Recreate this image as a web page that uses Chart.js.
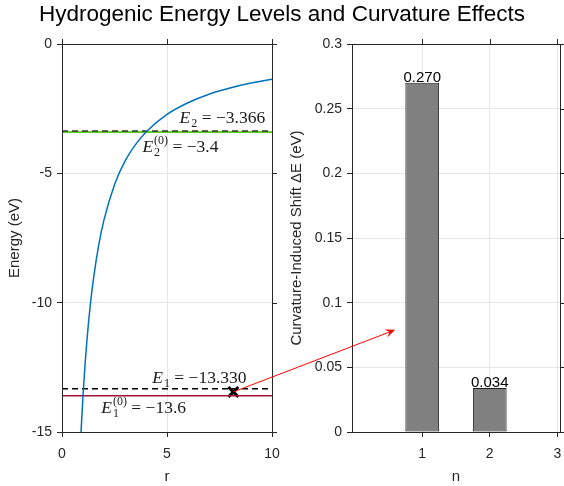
<!DOCTYPE html>
<html>
<head>
<meta charset="utf-8">
<script src="https://cdn.jsdelivr.net/npm/chart.js@4.4.1/dist/chart.umd.min.js"></script>
<style>
  body { margin: 0; background: #fff; }
  #wrap { position: relative; width: 564px; height: 486px; overflow: hidden; }
  #title { position: absolute; left: 0; top: 1px; width: 564px; text-align: center;
           font: 22.5px "Liberation Sans", Arial, sans-serif; color: #000; }
  canvas { position: absolute; top: 0; }
</style>
</head>
<body>
<div id="wrap">
  <canvas id="leftChart" width="282" height="486" style="left:0"></canvas>
  <canvas id="rightChart" width="282" height="486" style="left:282px"></canvas>
  <canvas id="overlay" width="564" height="486" style="left:0;pointer-events:none"></canvas>
  <div id="title">Hydrogenic Energy Levels and Curvature Effects</div>
</div>
<script>
// ---- data ----
// Coulomb-like curve (left panel)
const rCurve = [0.9, 1.0, 1.1, 1.2, 1.35, 1.5, 1.75, 2.0, 2.5, 3.0, 3.5, 4.0, 5.0, 6.0, 7.0, 8.0, 9.0, 10.0];
const eCurve = [-15.1, -13.6, -12.36, -11.33, -10.07, -9.07, -7.77, -6.8, -5.44, -4.53, -3.89, -3.4, -2.72, -2.27, -1.94, -1.7, -1.51, -1.36];
const rSpan = [0, 10];
const unperturbed = [-13.6, -3.4];     // E1(0), E2(0)
const perturbed = [-13.330, -3.366];   // E1, E2
const markPoint = [8.16, -13.45];

// level labels: [r, E] anchor, subscript, has superscript, value text
const levelLabelPos = [[4.3, -13.1], [1.87, -14.27], [5.6, -3.05], [3.83, -4.16]];
const levelLabelSub = ['1', '1', '2', '2'];
const levelLabelSup = [false, true, false, true];
const levelLabelVal = ['\u221213.330', '\u221213.6', '\u22123.366', '\u22123.4'];

// right panel bars
const nValues = [1, 2];
const shiftValues = [0.270, 0.034];
const shiftLabels = ['0.270', '0.034'];
const nTicks = [1, 2, 3];

// arrow: from left-panel data point to right-panel data point
const arrowFrom = [8.16, -13.45];
const arrowTo = [0.6, 0.079];

const axisColor = '#262626';
const gridColor = '#e6e6e6';
const sans = '"Liberation Sans", Arial, sans-serif';

Chart.defaults.font.family = sans;
Chart.defaults.color = axisColor;

const boxPlugin = {
  id: 'box',
  afterDraw(chart) {
    const { ctx, chartArea: a, scales } = chart;
    ctx.save();
    ctx.strokeStyle = axisColor;
    ctx.lineWidth = 1;
    ctx.strokeRect(Math.round(a.left) + 0.5, Math.round(a.top) + 0.5,
                   Math.round(a.right - a.left), Math.round(a.bottom - a.top));
    ctx.beginPath();
    scales.x.ticks.forEach(t => {
      const px = Math.round(scales.x.getPixelForValue(t.value)) + 0.5;
      ctx.moveTo(px, a.top); ctx.lineTo(px, a.top - 5);
    });
    scales.y.ticks.forEach(t => {
      const py = Math.round(scales.y.getPixelForValue(t.value)) + 0.5;
      ctx.moveTo(a.right, py); ctx.lineTo(a.right + 5, py);
    });
    ctx.stroke();
    ctx.restore();
  }
};

function drawLevel(ctx, x, y, sub, sup, val) {
  ctx.font = 'italic 17.5px "Liberation Serif", "DejaVu Serif", serif';
  ctx.fillText('E', x, y);
  x += ctx.measureText('E').width + 1;
  ctx.font = '12px "Liberation Serif", "DejaVu Serif", serif';
  ctx.fillText(sub, x, y + 4);
  let w = ctx.measureText(sub).width;
  if (sup) {
    ctx.fillText('(0)', x, y - 8);
    w = Math.max(w, ctx.measureText('(0)').width);
  }
  x += w;
  ctx.font = '17.5px "Liberation Serif", "DejaVu Serif", serif';
  ctx.fillText(' = ' + val, x, y);
}

const levelTextPlugin = {
  id: 'levelText',
  afterDatasetsDraw(chart) {
    const { ctx, scales } = chart;
    ctx.save();
    ctx.fillStyle = '#1a1a1a';
    ctx.textBaseline = 'alphabetic';
    levelLabelPos.forEach((p, i) => {
      drawLevel(ctx, scales.x.getPixelForValue(p[0]), scales.y.getPixelForValue(p[1]),
                levelLabelSub[i], levelLabelSup[i], levelLabelVal[i]);
    });
    ctx.restore();
  }
};

const barLabelPlugin = {
  id: 'barLabel',
  afterDatasetsDraw(chart) {
    const { ctx, scales } = chart;
    ctx.save();
    ctx.fillStyle = '#000';
    ctx.font = '15px ' + sans;
    ctx.textAlign = 'center';
    ctx.textBaseline = 'alphabetic';
    nValues.forEach((n, i) => {
      ctx.fillText(shiftLabels[i], scales.x.getPixelForValue(n), scales.y.getPixelForValue(shiftValues[i]) - 1);
    });
    ctx.restore();
  }
};

function hline(y, color, width, dash) {
  return {
    data: rSpan.map(r => ({ x: r, y: y })),
    borderColor: color, borderWidth: width, borderDash: dash || [],
    pointRadius: 0, fill: false
  };
}

const tickFont = { size: 14 };
const titleFont = { size: 15 };

function fitX(s) { s.height = 54; s.paddingRight = 0; s.paddingLeft = 0; }

const leftChart = new Chart(document.getElementById('leftChart'), {
  type: 'line',
  data: {
    datasets: [
      {
        data: rCurve.map((r, i) => ({ x: r, y: eCurve[i] })),
        borderColor: '#0072BD', borderWidth: 1.5, pointRadius: 0,
        cubicInterpolationMode: 'monotone', fill: false
      },
      hline(perturbed[1], '#333333', 1.5, [6, 4]),
      hline(unperturbed[1], '#5fcf1f', 2),
      hline(unperturbed[0], '#A2142F', 1.5),
      hline(perturbed[0], '#000000', 1.5, [6, 4]),
      {
        data: [{ x: markPoint[0], y: markPoint[1] }],
        showLine: false, pointStyle: 'crossRot', pointRadius: 7,
        pointBorderWidth: 3, pointBorderColor: '#000', borderColor: '#000'
      }
    ]
  },
  options: {
    responsive: false,
    animation: false,
    layout: { padding: { top: 44, right: 10, left: 0, bottom: 0 } },
    plugins: { legend: { display: false }, tooltip: { enabled: false } },
    scales: {
      x: {
        type: 'linear', min: rSpan[0], max: rSpan[1],
        ticks: { stepSize: 5, font: tickFont, padding: 9, maxRotation: 0 },
        grid: { color: gridColor, tickColor: axisColor, tickLength: 5 },
        border: { color: axisColor },
        title: { display: true, text: 'r', font: titleFont, padding: { top: 0, bottom: 0 } },
        afterFit: fitX
      },
      y: {
        min: -15, max: 0,
        ticks: { stepSize: 5, font: tickFont, padding: 5 },
        grid: { color: gridColor, tickColor: axisColor, tickLength: 5 },
        border: { color: axisColor },
        title: { display: true, text: 'Energy (eV)', font: titleFont, padding: { top: 6, bottom: 0 } },
        afterFit(s) { s.width = 62; }
      }
    }
  },
  plugins: [levelTextPlugin, boxPlugin]
});

const rightChart = new Chart(document.getElementById('rightChart'), {
  type: 'bar',
  data: {
    datasets: [{
      data: nValues.map((n, i) => ({ x: n, y: shiftValues[i] })),
      backgroundColor: '#808080', borderColor: '#1f1f1f', borderWidth: 1,
      borderSkipped: false,
      barPercentage: 0.5, categoryPercentage: 1.0
    }]
  },
  options: {
    responsive: false,
    animation: false,
    layout: { padding: { top: 44, right: 4, left: 0, bottom: 0 } },
    plugins: { legend: { display: false }, tooltip: { enabled: false } },
    scales: {
      x: {
        type: 'linear', min: -0.04, max: 3.04, offset: false,
        afterBuildTicks(s) { s.ticks = nTicks.map(v => ({ value: v })); },
        ticks: { font: tickFont, padding: 9, maxRotation: 0 },
        grid: { color: gridColor, tickColor: axisColor, tickLength: 5, offset: false },
        border: { color: axisColor },
        title: { display: true, text: 'n', font: titleFont, padding: { top: 0, bottom: 0 } },
        afterFit: fitX
      },
      y: {
        min: 0, max: 0.3,
        ticks: { stepSize: 0.05, font: tickFont, padding: 5,
                 callback: v => String(Math.round(v * 100) / 100) },
        grid: { color: gridColor, tickColor: axisColor, tickLength: 5 },
        border: { color: axisColor },
        title: { display: true, text: 'Curvature-Induced Shift \u0394E (eV)', font: titleFont, padding: { top: 6, bottom: 0 } },
        afterFit(s) { s.width = 70; }
      }
    }
  },
  plugins: [barLabelPlugin, boxPlugin]
});

// arrow across both panels
(function drawArrow() {
  const ctx = document.getElementById('overlay').getContext('2d');
  const x1 = leftChart.scales.x.getPixelForValue(arrowFrom[0]);
  const y1 = leftChart.scales.y.getPixelForValue(arrowFrom[1]);
  const x2 = 282 + rightChart.scales.x.getPixelForValue(arrowTo[0]);
  const y2 = rightChart.scales.y.getPixelForValue(arrowTo[1]);
  const ang = Math.atan2(y2 - y1, x2 - x1);
  const head = 11, spread = 0.4;
  ctx.strokeStyle = '#ff0000';
  ctx.fillStyle = '#ff0000';
  ctx.lineWidth = 1;
  ctx.beginPath();
  ctx.moveTo(x1, y1);
  ctx.lineTo(x2 - 4 * Math.cos(ang), y2 - 4 * Math.sin(ang));
  ctx.stroke();
  ctx.beginPath();
  ctx.moveTo(x2, y2);
  ctx.lineTo(x2 - head * Math.cos(ang - spread), y2 - head * Math.sin(ang - spread));
  ctx.lineTo(x2 - head * 0.55 * Math.cos(ang), y2 - head * 0.55 * Math.sin(ang));
  ctx.lineTo(x2 - head * Math.cos(ang + spread), y2 - head * Math.sin(ang + spread));
  ctx.closePath();
  ctx.fill();
})();
</script>
</body>
</html>
